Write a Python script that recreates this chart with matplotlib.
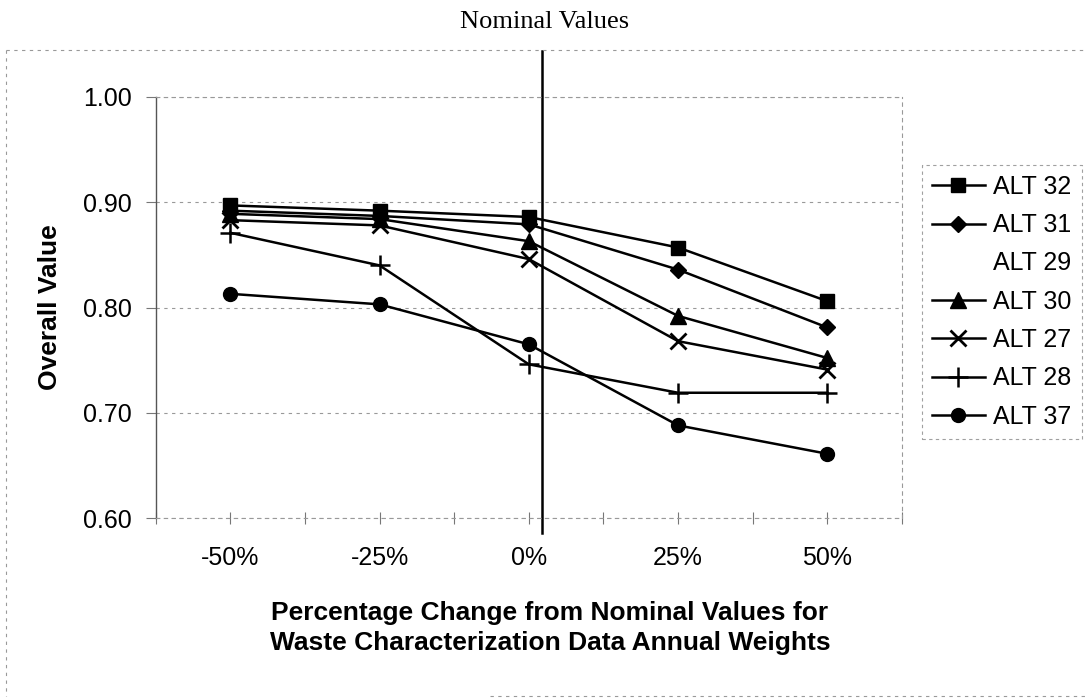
import matplotlib
matplotlib.use("Agg")
from matplotlib import pyplot as plt
from matplotlib.lines import Line2D

# category labels on the x axis
changes = ["-50%", "-25%", "0%", "25%", "50%"]

# overall value per alternative
alt32 = [0.897, 0.892, 0.886, 0.857, 0.806]
alt31 = [0.892, 0.887, 0.879, 0.836, 0.781]
alt30 = [0.889, 0.884, 0.863, 0.792, 0.752]
alt27 = [0.883, 0.878, 0.846, 0.768, 0.741]
alt28 = [0.871, 0.840, 0.746, 0.719, 0.719]
alt37 = [0.813, 0.803, 0.765, 0.688, 0.661]

y_ticks = [0.60, 0.70, 0.80, 0.90, 1.00]

plt.rcParams["font.family"] = ["Liberation Sans", "DejaVu Sans"]

W, H = 1088, 698
fig = plt.figure(figsize=(W / 100, H / 100), dpi=100)
ax = fig.add_axes([155.6 / W, 1 - 518 / H, 746.4 / W, 421 / H])

xs = list(range(len(changes)))

# legend order follows the original: ALT 29 has no visible line or marker
ax.plot(xs, alt32, color="black", lw=1.8, marker="s", ms=10, label="ALT 32")
ax.plot(xs, alt31, color="black", lw=1.8, marker="D", ms=8, label="ALT 31")
ax.plot([], [], ls="none", marker="none", label="ALT 29")
ax.plot(xs, alt30, color="black", lw=1.8, marker="^", ms=11, label="ALT 30")
ax.plot(xs, alt27, color="black", lw=1.8, marker="x", ms=11, mew=2, label="ALT 27")
ax.plot(xs, alt28, color="black", lw=1.8, marker="+", ms=14, mew=1.8, label="ALT 28")
ax.plot(xs, alt37, color="black", lw=1.8, marker="o", ms=10, label="ALT 37")

ax.set_xlim(-0.5, len(changes) - 0.5)
ax.set_ylim(0.60, 1.00)
ax.set_yticks(y_ticks)
ax.set_yticklabels(["%.2f" % v for v in y_ticks], fontsize=18)
ax.set_xticks(xs)
ax.set_xticklabels(changes, fontsize=18)
ax.set_xticks([i - 0.5 for i in range(len(changes) + 1)], minor=True)
ax.tick_params(axis="x", which="both", direction="inout", length=9, width=0.8,
               color="#777777", pad=16)
ax.tick_params(axis="y", direction="out", length=7, width=0.8, color="#777777", pad=10)

ax.grid(axis="y", color="#999999", ls=(0, (3, 4)), lw=0.8)
for side in ["top", "right", "bottom"]:
    ax.spines[side].set_color("#999999")
    ax.spines[side].set_linestyle((0, (3, 4)))
    ax.spines[side].set_linewidth(0.8)
ax.spines["left"].set_color("#555555")
ax.spines["left"].set_linewidth(1.0)

# vertical marker line just right of the nominal (0%) category
nominal_pos = changes.index("0%") + 0.09
ax.axvline(nominal_pos, ymin=-0.035, ymax=1.11, color="black", lw=1.8, clip_on=False)

fig.text(545 / W, 1 - 22 / H, "Nominal Values", ha="center", va="center",
         fontsize=19, family="Liberation Serif")
fig.text(50 / W, 1 - 307 / H, "Overall Value", ha="center", va="center",
         rotation=90, fontsize=19, fontweight="bold")
fig.text(550 / W, 1 - 628 / H,
         "Percentage Change from Nominal Values for\nWaste Characterization Data Annual Weights",
         ha="center", va="center", fontsize=19, fontweight="bold", linespacing=1.35)

leg = fig.legend(loc="upper left", bbox_to_anchor=(922 / W, 1 - 165 / H),
                 fontsize=18, frameon=True, fancybox=False, handlelength=2.1,
                 handletextpad=0.35, labelspacing=0.57, borderpad=0.4,
                 borderaxespad=0)
leg.get_frame().set_edgecolor("#888888")
leg.get_frame().set_linestyle((0, (3, 3)))
leg.get_frame().set_linewidth(0.8)

# scanned chart-area border
fig.add_artist(Line2D([6 / W, 6 / W], [1 - 50 / H, 1 - 696 / H], color="#999999",
                      lw=0.8, ls=(0, (3, 4))))
fig.add_artist(Line2D([6 / W, 1086 / W], [1 - 50 / H, 1 - 50 / H], color="#999999",
                      lw=0.8, ls=(0, (3, 4))))
fig.add_artist(Line2D([490 / W, 1086 / W], [1 - 696 / H, 1 - 696 / H], color="#999999",
                      lw=0.8, ls=(0, (3, 4))))

fig.savefig("out.png", dpi=100)
